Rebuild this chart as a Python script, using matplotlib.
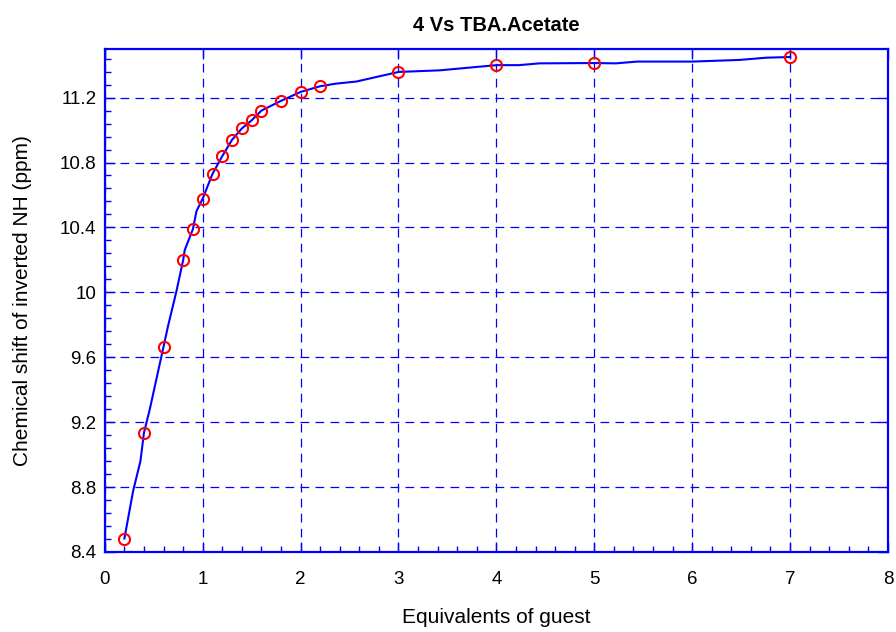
"""Chemical shift titration curve: 4 vs TBA.Acetate."""

import matplotlib

matplotlib.use("Agg")
import matplotlib.pyplot as plt
from matplotlib.ticker import FixedLocator, MultipleLocator

plt.rcParams["font.family"] = ["Liberation Sans", "DejaVu Sans"]

# observed titration points
equiv = [0.2, 0.4, 0.6, 0.8, 0.9, 1.0, 1.1, 1.2, 1.3, 1.4, 1.5, 1.6,
         1.8, 2.0, 2.2, 3.0, 4.0, 5.0, 7.0]
shift = [8.483, 9.136, 9.666, 10.198, 10.39, 10.578, 10.73, 10.84, 10.94,
         11.01, 11.06, 11.12, 11.18, 11.235, 11.27, 11.358, 11.40, 11.413,
         11.45]

# fitted curve vertices as drawn
fit_x = [0.2, 0.289, 0.364, 0.4, 0.459, 0.6, 0.646, 0.732, 0.8, 0.816, 0.9,
         0.936, 1.0, 1.1, 1.2, 1.3, 1.4, 1.5, 1.6, 1.8, 2.0, 2.2, 2.36, 2.57,
         3.0, 3.42, 3.62, 4.0, 4.23, 4.44, 5.0, 5.22, 5.44, 6.0, 6.48, 6.76,
         7.0]
fit_y = [8.483, 8.776, 8.961, 9.136, 9.279, 9.666, 9.793, 10.008, 10.198,
         10.26, 10.39, 10.50, 10.578, 10.73, 10.84, 10.94, 11.01, 11.06,
         11.12, 11.18, 11.235, 11.27, 11.286, 11.299, 11.358, 11.368, 11.379,
         11.40, 11.40, 11.411, 11.413, 11.411, 11.422, 11.422, 11.432,
         11.446, 11.45]

x_ticks = [0, 1, 2, 3, 4, 5, 6, 7, 8]
y_ticks = [8.4, 8.8, 9.2, 9.6, 10.0, 10.4, 10.8, 11.2]
y_tick_labels = ["8.4", "8.8", "9.2", "9.6", "10", "10.4", "10.8", "11.2"]

BLUE = "#0000ff"

fig = plt.figure(figsize=(8.96, 6.32), dpi=100)
ax = fig.add_axes([0.117, 0.1266, 0.874, 0.796])

ax.plot(fit_x, fit_y, color=BLUE, linewidth=1.5, zorder=3)
ax.plot(equiv, shift, linestyle="none", marker="o", markersize=8,
        markerfacecolor="none", markeredgecolor="#ff0000",
        markeredgewidth=1.5, zorder=4)

ax.set_xlim(0, 8)
ax.set_ylim(8.4, 11.5)
ax.xaxis.set_major_locator(FixedLocator(x_ticks))
ax.xaxis.set_minor_locator(MultipleLocator(0.2))
ax.set_yticks(y_ticks)
ax.set_yticklabels(y_tick_labels)
ax.yaxis.set_minor_locator(MultipleLocator(0.08))

ax.grid(True, which="major", color=BLUE, linestyle=(0, (7, 5)),
        linewidth=0.9)

for spine in ax.spines.values():
    spine.set_color(BLUE)
    spine.set_linewidth(1.6)

ax.tick_params(which="both", direction="in", color=BLUE, labelsize=13.5,
               top=True, right=True)
ax.tick_params(which="major", length=7, width=1)
ax.tick_params(which="minor", length=4, width=1, top=False, right=False)
ax.tick_params(axis="x", pad=14)
ax.tick_params(axis="y", pad=6)

ax.set_xlabel("Equivalents of guest", fontsize=15, labelpad=14)
ax.set_ylabel("Chemical shift of inverted NH (ppm)", fontsize=15,
              labelpad=20)
ax.set_title("4 Vs TBA.Acetate", fontsize=14.5, fontweight="bold", pad=13)

fig.savefig("out.png", dpi=100)
plt.close(fig)
